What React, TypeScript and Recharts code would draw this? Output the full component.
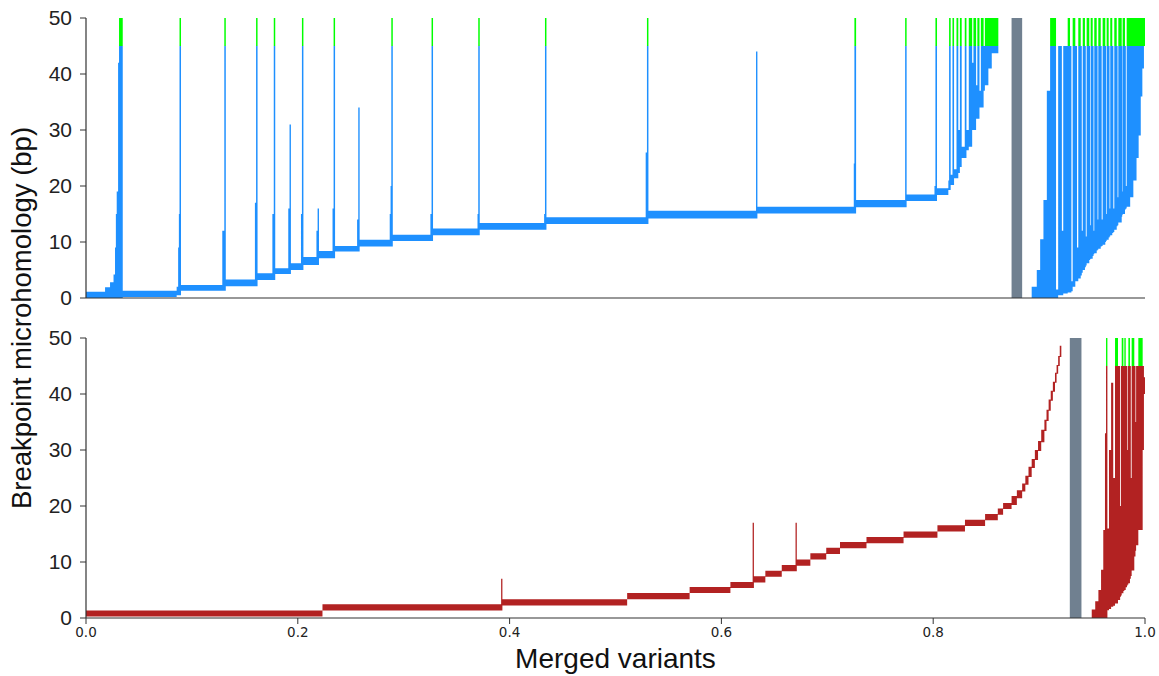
import { AreaChart, Area, XAxis, YAxis, ReferenceArea } from 'recharts';

type Col = [number, number, number];

// each column: [start of variant run (fraction), min microhomology, max microhomology]
// a max of 50 means the variant runs past the top of the axis
const topSteps: Col[] = [
  [0.0, 0, 1.1], [0.018, 0, 1.9], [0.0227, 0, 2.8], [0.026, 0, 4.2], [0.0274, 0, 9],
  [0.0282, 0, 15], [0.029, 0, 19], [0.0303, 0, 42], [0.0312, 0, 50], [0.0347, 0.2, 1.3],
  [0.0856, 0.5, 2], [0.087, 0.5, 9], [0.0877, 0.5, 15], [0.0883, 0.5, 50], [0.0897, 1.3, 2.3],
  [0.1287, 1.3, 12], [0.1306, 1.3, 50], [0.132, 2.1, 3.3],
  [0.1595, 2.1, 17], [0.1606, 2.1, 50], [0.162, 3.2, 4.4],
  [0.176, 3.2, 15], [0.1773, 3.2, 50], [0.1787, 4.3, 5.3],
  [0.191, 4.3, 16], [0.1922, 4.3, 31], [0.1935, 5.0, 6.2],
  [0.203, 5.0, 15], [0.2039, 5.0, 50], [0.2053, 5.9, 7.3],
  [0.2176, 5.9, 12], [0.2187, 5.9, 16], [0.22, 7.1, 8.4],
  [0.2328, 7.1, 16], [0.2338, 7.1, 50], [0.2352, 8.3, 9.3],
  [0.256, 8.3, 14], [0.2571, 8.3, 34], [0.2584, 9.2, 10.4],
  [0.2868, 9.2, 15], [0.2876, 9.2, 20], [0.2883, 9.2, 50], [0.2897, 10.2, 11.3],
  [0.3252, 10.2, 15], [0.3263, 10.2, 50], [0.3277, 11.2, 12.4],
  [0.3697, 11.2, 15], [0.3704, 11.2, 50], [0.3718, 12.2, 13.4],
  [0.4326, 12.2, 15], [0.4334, 12.2, 50], [0.4348, 13.2, 14.4],
  [0.5285, 13.2, 26], [0.5297, 13.2, 50], [0.5311, 14.2, 15.6],
  [0.6327, 14.2, 44], [0.634, 15.1, 16.3],
  [0.725, 15.1, 24], [0.7256, 15.1, 50], [0.7272, 16.2, 17.5],
  [0.7735, 16.2, 50], [0.7749, 17.3, 18.5],
  [0.8012, 17.3, 20], [0.8021, 17.3, 50], [0.8036, 18.4, 19.6],
];

const topRising: Col[] = [
  [0.8143, 19.3, 21], [0.815, 19.3, 50], [0.8165, 20.2, 22], [0.8182, 20.2, 50],
  [0.8197, 21.4, 23], [0.822, 21.4, 50], [0.8237, 22.3, 30], [0.8252, 23.4, 50],
  [0.8269, 25, 27], [0.8298, 25, 50], [0.8314, 26.4, 30], [0.8336, 27, 50],
  [0.8368, 30, 42], [0.838, 30, 50], [0.8405, 32, 38], [0.8417, 32, 50],
  [0.8437, 34, 37], [0.845, 34, 50], [0.8476, 37, 45], [0.8488, 38, 50],
  [0.8521, 41, 50], [0.8553, 43.7, 50], [0.8615, 0, 0],
];

const topFan: Col[] = [
  [0.893, 0, 2], [0.8978, 0, 5], [0.901, 0, 10.5], [0.9041, 0, 17.5], [0.9073, 0, 37],
  [0.9104, 0, 50], [0.916, 0, 1.5], [0.918, 0.5, 45], [0.9215, 0.5, 12], [0.9228, 0.8, 45],
  [0.927, 1, 50], [0.9292, 1, 45], [0.9305, 1.2, 3], [0.9317, 2, 50],
  [0.9342, 3, 45], [0.9358, 3, 9], [0.937, 3.5, 50],
  [0.9393, 4, 45], [0.9403, 4.5, 12], [0.9412, 5, 50],
  [0.9433, 5.5, 45], [0.9441, 5.8, 11], [0.9449, 6.2, 50],
  [0.9474, 6.8, 45], [0.9481, 6.9, 13], [0.9487, 7, 50],
  [0.9506, 7.5, 45], [0.9514, 7.8, 12], [0.9521, 8, 50],
  [0.9544, 8.5, 45], [0.9552, 8.6, 14], [0.9559, 8.8, 50],
  [0.9582, 9.2, 45], [0.9591, 9.3, 14], [0.96, 9.5, 50],
  [0.9625, 10, 45], [0.9632, 10.2, 15], [0.9638, 10.4, 50],
  [0.9657, 10.8, 45], [0.9665, 11, 16], [0.9672, 11.2, 50],
  [0.9691, 11.6, 45], [0.9701, 11.8, 16], [0.971, 12.2, 50],
  [0.9733, 12.8, 45], [0.9741, 13, 18], [0.9748, 13.5, 50],
  [0.978, 14.5, 45], [0.9785, 14.8, 19], [0.9789, 15, 50],
  [0.9811, 15.8, 45], [0.9819, 16, 20], [0.9827, 16.3, 50],
  [0.986, 18, 50], [0.989, 21, 50], [0.992, 25, 50], [0.994, 29, 50],
  [0.996, 36, 50], [0.9975, 41, 50], [0.999, 45, 50], [1.0, 45, 50],
];

const bottomSteps: Col[] = [
  [0.0, 0.25, 1.35], [0.2233, 1.35, 2.45], [0.392, 1.35, 7], [0.3932, 2.25, 3.35],
  [0.511, 3.35, 4.45], [0.57, 4.45, 5.55], [0.6085, 5.35, 6.45], [0.6295, 5.35, 17],
  [0.6307, 6.35, 7.45], [0.6415, 7.35, 8.45], [0.657, 8.35, 9.45], [0.67, 8.35, 17],
  [0.6712, 9.35, 10.45], [0.684, 10.45, 11.55], [0.699, 11.45, 12.55], [0.712, 12.45, 13.55],
  [0.737, 13.35, 14.45], [0.772, 14.35, 15.45], [0.804, 15.45, 16.55], [0.83, 16.45, 17.55],
  [0.849, 17.45, 18.55], [0.861, 18.45, 19.55], [0.866, 19.45, 20.55],
];

const bottomRising: Col[] = [
  [0.874, 20.2, 21.8], [0.879, 21.4, 22.8], [0.884, 22.6, 24], [0.887, 23.8, 25.4],
  [0.89, 25.2, 27], [0.893, 26.8, 28.4], [0.896, 28.2, 30], [0.899, 29.8, 31.6],
  [0.902, 31.4, 33.6], [0.905, 33.4, 35.4], [0.907, 35.2, 37.2], [0.909, 37, 39],
  [0.911, 38.8, 40.6], [0.913, 40.4, 42.2], [0.915, 42, 43.8], [0.9165, 43.6, 45.2],
  [0.918, 45, 46.8], [0.9195, 46.6, 48.6], [0.921, 0, 0],
];

const bottomFan: Col[] = [
  [0.9497, 0, 1.5], [0.953, 0, 3], [0.956, 0, 5], [0.9585, 0, 8.6], [0.9606, 0, 15.7],
  [0.9622, 0, 33], [0.9632, 0, 50], [0.9645, 1.4, 16], [0.966, 1.6, 30], [0.968, 2, 42],
  [0.97, 2.2, 25], [0.9717, 2.6, 50], [0.9745, 3.2, 45], [0.9765, 3.8, 20], [0.9773, 4, 45],
  [0.978, 4.4, 50], [0.9796, 4.8, 45], [0.9805, 5, 50], [0.9818, 5.5, 45], [0.983, 5.8, 30],
  [0.9836, 6, 45], [0.9843, 6.2, 50], [0.9858, 7, 45], [0.9866, 7.5, 25], [0.9874, 8.5, 50],
  [0.9899, 11, 45], [0.991, 12, 35], [0.9916, 13, 45], [0.9937, 15.7, 50], [0.9978, 30, 45],
  [0.999, 40, 43], [1.0, 40, 43],
];

const topGap: [number, number] = [0.874, 0.884];
const bottomGap: [number, number] = [0.929, 0.94];
const yTicks = [0, 10, 20, 30, 40, 50];
const xTicks = [0, 0.2, 0.4, 0.6, 0.8, 1.0];

const OVER = 50; // value marking a run beyond the axis
const CAP = 45;

const BLUE = '#1e90ff';
const RED = '#b22222';
const GREEN = '#00ff00';
const GRAY = '#708090';
const AXIS = '#333';
const SANS = 'Liberation Sans, Arial, sans-serif';

function toRows(cols: Col[]) {
  return cols.map(([x, lo, hi]) => {
    const over = hi >= OVER;
    return {
      x,
      main: [lo, over ? CAP : hi],
      over: over ? [CAP, OVER] : [CAP, CAP],
    };
  });
}

const topRows = toRows([...topSteps, ...topRising, ...topFan]);
const bottomRows = toRows([...bottomSteps, ...bottomRising, ...bottomFan]);

type PanelProps = {
  rows: ReturnType<typeof toRows>;
  color: string;
  gap: [number, number];
  bottom?: boolean;
};

function Panel({ rows, color, gap, bottom }: PanelProps) {
  return (
    <AreaChart
      width={1159}
      height={bottom ? 356 : 322}
      data={rows}
      margin={{ top: 18, right: 14, bottom: 0, left: 0 }}
    >
      <XAxis
        type="number"
        dataKey="x"
        domain={[0, 1]}
        allowDataOverflow
        ticks={xTicks}
        interval={0}
        tick={bottom ? { fontSize: 13.5, fontFamily: 'DejaVu Sans', fill: '#222' } : false}
        tickLine={bottom ? { stroke: AXIS } : false}
        tickFormatter={(v: number) => v.toFixed(1)}
        tickSize={6}
        tickMargin={3}
        height={bottom ? 58 : 24}
        axisLine={{ stroke: AXIS, strokeWidth: 1.2 }}
        label={
          bottom
            ? {
                value: 'Merged variants',
                position: 'insideBottom',
                offset: 8,
                style: { fontSize: 28, fontFamily: SANS, fill: '#111' },
              }
            : undefined
        }
      />
      <YAxis
        type="number"
        domain={[0, 50]}
        allowDataOverflow
        ticks={yTicks}
        interval={0}
        width={86}
        tickSize={6}
        tickMargin={8}
        tick={{ fontSize: 21, fontFamily: SANS, fill: '#222' }}
        tickLine={{ stroke: AXIS }}
        axisLine={{ stroke: AXIS, strokeWidth: 1.2 }}
      />
      <Area
        dataKey="main"
        type="stepAfter"
        stroke="none"
        fill={color}
        fillOpacity={1}
        dot={false}
        activeDot={false}
        isAnimationActive={false}
      />
      <Area
        dataKey="over"
        type="stepAfter"
        stroke="none"
        fill={GREEN}
        fillOpacity={1}
        dot={false}
        activeDot={false}
        isAnimationActive={false}
      />
      <ReferenceArea x1={gap[0]} x2={gap[1]} y1={0} y2={50} fill={GRAY} fillOpacity={1} stroke="none" />
    </AreaChart>
  );
}

export default function App() {
  return (
    <div style={{ position: 'absolute', left: 0, top: 0, width: 1159, height: 676, background: '#fff' }}>
      <div style={{ position: 'absolute', left: 0, top: 320 }}>
        <Panel rows={bottomRows} color={RED} gap={bottomGap} bottom />
      </div>
      <div style={{ position: 'absolute', left: 0, top: 0 }}>
        <Panel rows={topRows} color={BLUE} gap={topGap} />
      </div>
      <svg width={60} height={676} style={{ position: 'absolute', left: 0, top: 0 }}>
        <text
          transform="translate(31,318) rotate(-90)"
          textAnchor="middle"
          fontSize={27.5}
          fontFamily={SANS}
          fill="#111"
        >
          Breakpoint microhomology (bp)
        </text>
      </svg>
    </div>
  );
}
